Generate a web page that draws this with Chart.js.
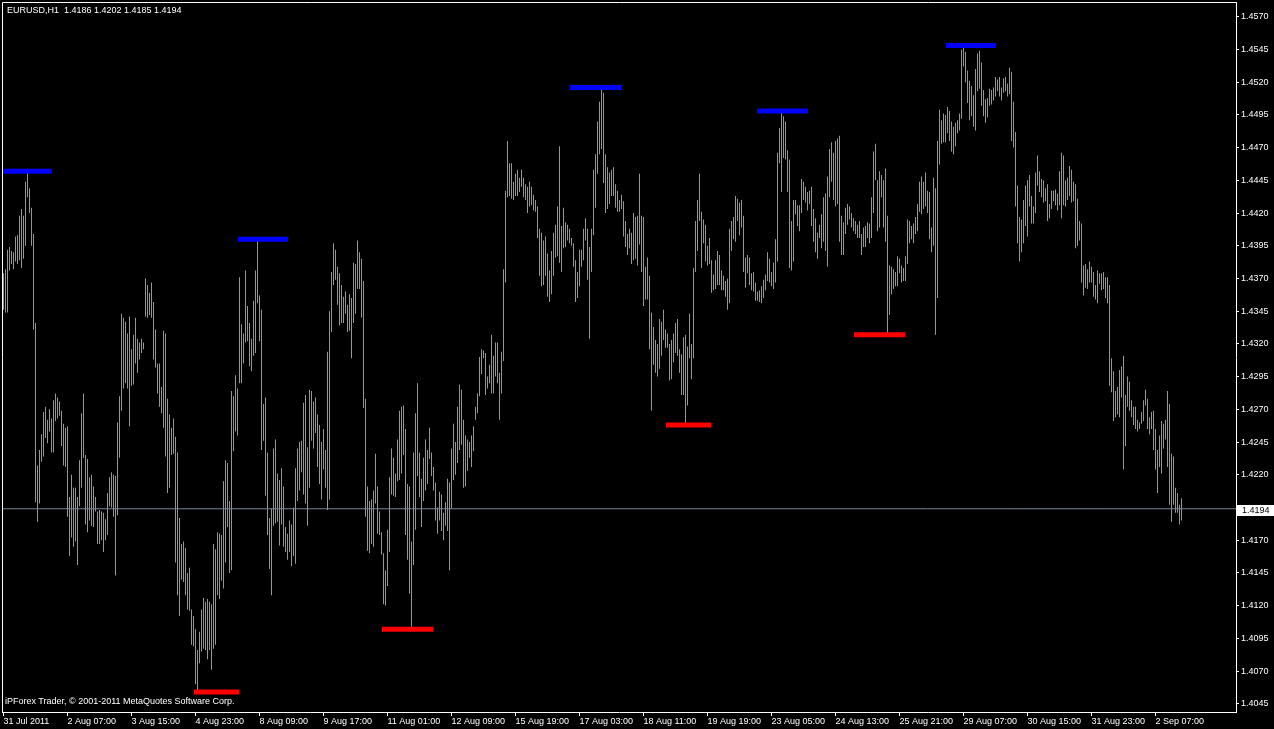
<!DOCTYPE html>
<html>
<head>
<meta charset="utf-8">
<script src="https://cdn.jsdelivr.net/npm/chart.js@4.4.0/dist/chart.umd.min.js"></script>
<style>
html, body { margin:0; padding:0; background:#000; overflow:hidden; }
#wrap { position:relative; width:1274px; height:729px; }
canvas { display:block; }
.txt { position:absolute; color:#fff; font-family:'Liberation Sans', Arial, sans-serif; font-size:9px; line-height:11px; white-space:pre; }
</style>
</head>
<body>
<div id="wrap">
  <canvas id="myChart" width="1274" height="729"></canvas>
  <div class="txt" style="left:7px; top:5px;">EURUSD,H1  1.4186 1.4202 1.4185 1.4194</div>
  <div class="txt" style="left:5px; top:696px;">iPForex Trader, © 2001-2011 MetaQuotes Software Corp.</div>
</div>
<script>
// H1 bars, prices x 10000 (one bar per hour, bar 0 = 31 Jul 23:00)
const barHigh = [
14374,14377,14392,14394,14391,14390,14402,14403,14418,14423,
14418,14444,14452,14439,14424,14404,14336,14227,14239,14251,
14268,14272,14262,14270,14263,14277,14282,14279,14276,14269,
14259,14256,14257,14203,14220,14210,14210,14203,14231,14267,
14282,14235,14232,14218,14220,14211,14203,14192,14193,14192,
14191,14186,14206,14218,14222,14220,14219,14260,14280,14343,
14340,14337,14328,14341,14316,14327,14340,14324,14321,14324,
14321,14370,14365,14359,14367,14352,14331,14305,14305,14287,
14330,14328,14278,14266,14256,14263,14249,14237,14187,14167,
14169,14164,14145,14149,14117,14112,14102,14086,14100,14117,
14126,14123,14125,14123,14121,14167,14163,14176,14175,14174,
14215,14231,14229,14200,14284,14280,14296,14286,14371,14335,
14328,14376,14349,14336,14324,14353,14376,14400,14357,14346,
14274,14279,14237,14187,14194,14240,14247,14221,14216,14225,
14211,14180,14175,14185,14182,14195,14225,14240,14245,14246,
14275,14281,14241,14285,14284,14276,14279,14266,14258,14245,
14255,14239,14314,14345,14375,14397,14392,14379,14374,14365,
14356,14360,14350,14358,14355,14382,14381,14399,14390,14385,
14368,14278,14211,14200,14201,14208,14236,14211,14192,14176,
14160,14147,14178,14218,14240,14233,14221,14247,14269,14272,
14273,14255,14213,14211,14169,14237,14267,14290,14237,14217,
14233,14247,14239,14256,14237,14226,14214,14195,14207,14205,
14191,14199,14217,14214,14240,14259,14245,14272,14289,14285,
14262,14250,14247,14245,14250,14257,14272,14282,14310,14316,
14315,14313,14295,14304,14327,14311,14321,14321,14298,14314,
14377,14437,14475,14458,14458,14444,14450,14453,14447,14453,
14447,14442,14440,14444,14440,14434,14430,14425,14408,14405,
14399,14402,14389,14376,14391,14405,14411,14425,14471,14410,
14424,14413,14411,14408,14401,14397,14384,14375,14392,14392,
14408,14416,14408,14394,14408,14453,14465,14490,14505,14516,
14512,14465,14455,14451,14453,14455,14442,14437,14430,14434,
14429,14414,14404,14408,14405,14420,14417,14418,14450,14418,
14417,14379,14386,14372,14344,14333,14323,14320,14339,14337,
14346,14331,14328,14320,14323,14328,14336,14339,14316,14312,
14325,14327,14318,14343,14320,14378,14414,14430,14450,14421,
14415,14411,14395,14401,14384,14373,14384,14391,14388,14376,
14372,14368,14370,14408,14414,14417,14433,14431,14428,14430,
14418,14386,14388,14386,14374,14375,14367,14360,14361,14364,
14369,14373,14390,14385,14375,14382,14400,14466,14485,14497,
14494,14490,14468,14461,14414,14430,14430,14426,14426,14446,
14444,14440,14436,14437,14440,14423,14416,14405,14411,14419,
14432,14435,14448,14469,14474,14466,14475,14477,14479,14418,
14413,14424,14427,14425,14420,14416,14414,14411,14414,14404,
14409,14410,14413,14412,14432,14467,14473,14445,14452,14449,
14445,14454,14418,14380,14379,14377,14375,14387,14385,14380,
14378,14387,14415,14414,14410,14412,14417,14427,14444,14448,
14444,14451,14437,14436,14409,14447,14439,14475,14499,14491,
14496,14495,14501,14498,14490,14486,14489,14491,14496,14545,
14548,14543,14529,14521,14517,14510,14530,14542,14544,14535,
14514,14507,14508,14515,14514,14516,14524,14522,14524,14516,
14523,14524,14519,14531,14528,14505,14482,14441,14417,14415,
14430,14441,14445,14449,14433,14425,14451,14464,14452,14446,
14445,14439,14442,14427,14437,14437,14438,14435,14452,14466,
14464,14445,14447,14456,14453,14444,14442,14431,14414,14412,
14380,14381,14377,14383,14379,14375,14365,14376,14374,14374,
14375,14371,14371,14365,14309,14299,14284,14287,14300,14303,
14311,14281,14295,14291,14277,14272,14272,14262,14260,14268,
14277,14285,14278,14264,14268,14269,14255,14239,14250,14261,
14259,14262,14284,14274,14236,14234,14210,14206,14197,14202
];
const barLow = [
14346,14344,14344,14376,14381,14377,14383,14381,14384,14378,
14385,14395,14432,14420,14395,14331,14199,14184,14198,14230,
14234,14248,14244,14253,14237,14237,14261,14263,14265,14242,
14227,14226,14188,14158,14172,14165,14169,14151,14196,14210,
14233,14182,14176,14185,14181,14180,14192,14167,14167,14170,
14161,14170,14174,14196,14195,14188,14143,14189,14233,14269,
14286,14290,14286,14257,14288,14289,14305,14298,14308,14313,
14316,14341,14340,14342,14340,14308,14302,14282,14272,14267,
14256,14234,14206,14210,14235,14236,14153,14128,14112,14140,
14138,14128,14117,14116,14090,14089,14060,14053,14076,14085,
14087,14086,14079,14086,14071,14087,14090,14128,14125,14139,
14133,14153,14180,14145,14147,14238,14253,14250,14290,14290,
14305,14321,14322,14303,14299,14311,14313,14351,14322,14239,
14246,14204,14174,14148,14128,14181,14183,14184,14166,14182,
14165,14161,14155,14161,14150,14158,14152,14200,14208,14222,
14205,14198,14181,14210,14246,14240,14252,14226,14213,14201,
14224,14210,14193,14201,14329,14365,14369,14350,14334,14336,
14336,14343,14329,14330,14309,14336,14343,14362,14362,14340,
14271,14188,14162,14160,14167,14165,14198,14175,14174,14159,
14121,14120,14135,14161,14205,14204,14203,14215,14216,14221,
14235,14174,14155,14129,14102,14151,14178,14219,14203,14180,
14200,14208,14213,14232,14219,14208,14185,14175,14185,14177,
14170,14181,14177,14147,14194,14216,14220,14229,14239,14243,
14210,14211,14223,14233,14226,14238,14262,14267,14280,14297,
14309,14281,14286,14290,14282,14282,14295,14290,14262,14282,
14307,14367,14432,14433,14431,14430,14433,14433,14436,14440,
14432,14430,14420,14425,14426,14422,14421,14401,14372,14364,
14365,14372,14356,14352,14358,14372,14386,14387,14382,14375,
14393,14394,14399,14397,14395,14379,14352,14355,14364,14379,
14384,14399,14369,14324,14375,14403,14424,14450,14465,14469,
14443,14420,14423,14427,14433,14433,14424,14421,14421,14423,
14402,14394,14388,14393,14381,14384,14385,14380,14396,14375,
14349,14354,14354,14316,14269,14304,14298,14295,14301,14311,
14323,14317,14317,14292,14293,14306,14313,14311,14298,14281,
14281,14258,14273,14309,14293,14309,14375,14391,14414,14378,
14397,14383,14380,14381,14359,14361,14362,14365,14365,14361,
14361,14356,14346,14351,14391,14400,14398,14414,14403,14409,
14375,14363,14374,14365,14361,14360,14353,14353,14352,14351,
14355,14361,14368,14367,14364,14362,14367,14383,14458,14436,
14462,14461,14436,14378,14376,14383,14419,14410,14406,14420,
14430,14428,14422,14427,14410,14398,14390,14385,14401,14393,
14398,14391,14379,14432,14444,14430,14425,14427,14398,14388,
14388,14404,14411,14415,14409,14406,14404,14401,14401,14388,
14394,14394,14401,14397,14401,14420,14445,14406,14409,14432,
14409,14398,14328,14342,14358,14362,14364,14364,14374,14367,
14368,14368,14381,14397,14400,14397,14404,14406,14421,14419,
14423,14425,14420,14400,14390,14395,14327,14355,14457,14473,
14474,14474,14481,14475,14467,14465,14471,14481,14483,14492,
14532,14520,14504,14491,14494,14486,14483,14513,14515,14502,
14494,14489,14493,14502,14503,14506,14509,14513,14509,14506,
14512,14513,14509,14511,14475,14470,14425,14397,14383,14390,
14397,14410,14402,14425,14412,14412,14420,14441,14436,14432,
14428,14429,14414,14416,14423,14429,14426,14422,14426,14416,
14426,14425,14430,14433,14428,14429,14393,14395,14399,14367,
14357,14363,14362,14367,14367,14356,14354,14351,14366,14361,
14362,14355,14351,14288,14283,14261,14264,14266,14264,14279,
14224,14242,14272,14269,14264,14258,14255,14253,14255,14259,
14261,14273,14255,14251,14255,14239,14224,14206,14226,14221,
14240,14247,14226,14197,14184,14197,14191,14191,14182,14185
];

// swing highs (blue) and lows (red): price level, first bar, last bar
const highLevels = [1.4452, 1.4400, 1.4516, 1.4498, 1.4548];
const highFrom   = [-0.25, 117.25, 283.25, 376.75, 471.25];
const highTo     = [24.25, 142.25, 308.75, 402.25, 496.25];
const lowLevels  = [1.4054, 1.4102, 1.4258, 1.4327];
const lowFrom    = [95.25, 189.25, 331.25, 425.25];
const lowTo      = [117.75, 214.75, 353.75, 450.75];

const bid = 1.4194;

const xTickBars = [0,32,64,96,128,160,192,224,256,288,320,352,384,416,448,480,512,544,576];
const xLabels = ['31 Jul 2011','2 Aug 07:00','3 Aug 15:00','4 Aug 23:00','8 Aug 09:00','9 Aug 17:00',
  '11 Aug 01:00','12 Aug 09:00','15 Aug 19:00','17 Aug 03:00','18 Aug 11:00','19 Aug 19:00',
  '23 Aug 05:00','24 Aug 13:00','25 Aug 21:00','29 Aug 07:00','30 Aug 15:00','31 Aug 23:00','2 Sep 07:00'];
// 1.4195 is left out, the bid label sits there
const yTicks = [1.4045,1.4070,1.4095,1.4120,1.4145,1.4170,1.4220,1.4245,1.4270,1.4295,1.4320,
  1.4345,1.4370,1.4395,1.4420,1.4445,1.4470,1.4495,1.4520,1.4545,1.4570];

const xMin = -0.75, xMax = 616.25;
const yMin = 1.40387, yMax = 1.458127;

Chart.defaults.font.family = "'Liberation Sans', Arial, sans-serif";
Chart.defaults.font.size = 9;

const bars = barHigh.map((h, i) => ({x: i, y: [barLow[i] / 10000, h / 10000]}));

let datasets = [{
	type: 'line',
	data: [{x: xMin, y: bid}, {x: xMax, y: bid}],
	borderColor: '#778899',
	borderWidth: 1,
	pointRadius: 0
}];
highLevels.forEach((v, k) => {
	datasets.push({
		type: 'line',
		data: [{x: highFrom[k], y: v}, {x: highTo[k], y: v}],
		borderColor: '#0000ff',
		borderWidth: 5,
		borderCapStyle: 'butt',
		pointRadius: 0
	});
});
lowLevels.forEach((v, k) => {
	datasets.push({
		type: 'line',
		data: [{x: lowFrom[k], y: v}, {x: lowTo[k], y: v}],
		borderColor: '#ff0000',
		borderWidth: 5,
		borderCapStyle: 'butt',
		pointRadius: 0
	});
});
datasets.push({
	type: 'bar',
	data: bars,
	backgroundColor: '#00ff00',
	borderWidth: 0,
	borderSkipped: false,
	barThickness: 1,
	inflateAmount: 0,
	grouped: false
});

// MT4 style frame on top/left plus the bid price box on the price scale
const frame = {
	id: 'frame',
	afterDraw(chart) {
		const {ctx, chartArea: a} = chart;
		ctx.save();
		ctx.strokeStyle = '#fff';
		ctx.lineWidth = 1;
		ctx.beginPath();
		ctx.moveTo(a.left + 0.5, a.bottom + 1);
		ctx.lineTo(a.left + 0.5, a.top + 0.5);
		ctx.lineTo(a.right + 1, a.top + 0.5);
		ctx.stroke();
		const y = chart.scales.y.getPixelForValue(bid);
		ctx.fillStyle = '#fff';
		ctx.fillRect(a.right + 1, Math.round(y) - 4, 38, 11);
		ctx.fillStyle = '#000';
		ctx.font = "9px 'Liberation Sans', Arial, sans-serif";
		ctx.textBaseline = 'middle';
		ctx.fillText(bid.toFixed(4), a.right + 6, Math.round(y) + 1.5);
		ctx.restore();
	}
};

let chart = new Chart(document.getElementById('myChart'), {
	type: 'bar',
	data: { datasets: datasets },
	options: {
		responsive: false,
		animation: false,
		events: [],
		layout: { padding: { left: 2, top: 2, right: 0, bottom: 0 } },
		plugins: { legend: { display: false }, tooltip: { enabled: false } },
		scales: {
			x: {
				type: 'linear',
				min: xMin,
				max: xMax,
				offset: false,
				grid: { drawOnChartArea: false, offset: false, color: '#fff', tickLength: 4 },
				border: { color: '#fff' },
				ticks: {
					autoSkip: false, maxRotation: 0, minRotation: 0, align: 'start',
					padding: 0, color: '#fff',
					callback: (v, i) => xLabels[i]
				},
				afterBuildTicks: s => { s.ticks = xTickBars.map(v => ({value: v})); },
				afterFit: s => { s.height = 17; s.paddingLeft = 0; s.paddingRight = 0; }
			},
			y: {
				type: 'linear',
				position: 'right',
				min: yMin,
				max: yMax,
				grid: { drawOnChartArea: false, color: '#fff', tickLength: 3 },
				border: { color: '#fff' },
				ticks: { color: '#fff', padding: 2, callback: v => v.toFixed(4) },
				afterBuildTicks: s => { s.ticks = yTicks.map(v => ({value: v})); },
				afterFit: s => { s.width = 38; s.paddingTop = 0; s.paddingBottom = 0; }
			}
		}
	},
	plugins: [frame]
});
</script>
</body>
</html>
